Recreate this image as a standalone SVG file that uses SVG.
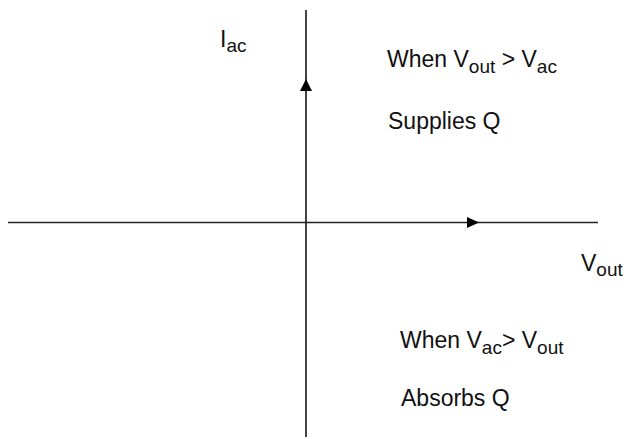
<svg xmlns="http://www.w3.org/2000/svg" width="624" height="439" viewBox="0 0 624 439">
<style>
text{font-family:"Liberation Sans",Arial,sans-serif;font-size:23px;fill:#111}
.s{font-size:19px}
.ax{stroke:#222;stroke-width:1.7;fill:none}
.ah{fill:#000}
</style>
<rect width="624" height="439" fill="#fff"/>
<g id="connectors">
<line class="ax" x1="8" y1="222.5" x2="598" y2="222.5"/>
<line class="ax" x1="306" y1="10" x2="306" y2="437"/>
<path class="ah" d="M467,217L479,222.5L467,228z"/>
<path class="ah" d="M300,91L306,79L312,91z"/>
</g>
<g id="label-iac"><text x="220" y="47">I<tspan class="s" dy="5">ac</tspan></text></g>
<g id="label-vout"><text x="581" y="271">V<tspan class="s" dy="5">out</tspan></text></g>
<g id="top-text">
<text x="387" y="67">When V<tspan class="s" dy="6">out</tspan><tspan dy="-6"> &gt; V</tspan><tspan class="s" dy="6">ac</tspan></text>
<text x="388" y="129">Supplies Q</text>
</g>
<g id="bottom-text">
<text x="400" y="348">When V<tspan class="s" dy="6">ac</tspan><tspan dy="-6">&gt; V</tspan><tspan class="s" dy="6">out</tspan></text>
<text x="401" y="406">Absorbs Q</text>
</g>
</svg>
